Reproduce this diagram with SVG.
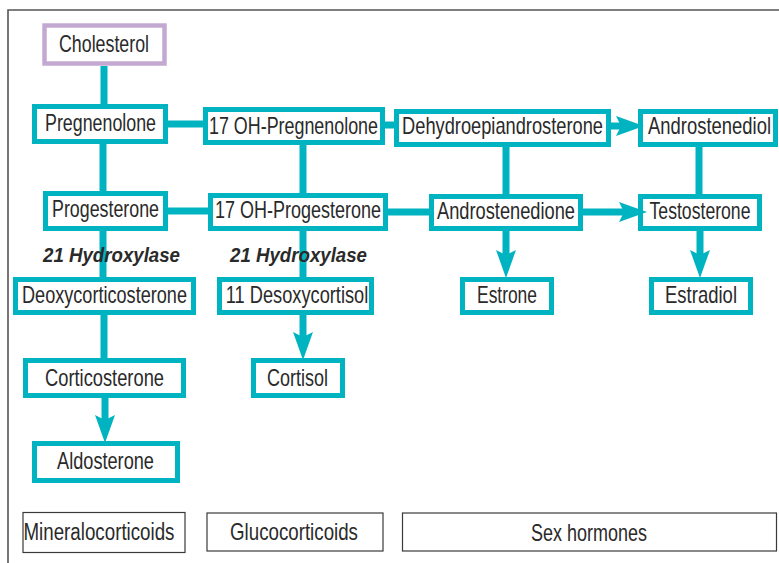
<svg xmlns="http://www.w3.org/2000/svg" width="779" height="563" viewBox="0 0 779 563">
<style>
.box{fill:#fff;stroke:#00b3c1;stroke-width:5}
.chol{fill:#fff;stroke:#c3a9d2;stroke-width:4.5}
.t{font-family:"Liberation Sans",Arial,sans-serif;font-size:23px;fill:#2a2a2a;text-anchor:middle}
.lab{font-family:"Liberation Sans",Arial,sans-serif;font-size:21px;font-style:italic;font-weight:bold;fill:#2a2a2a;text-anchor:middle}
.c{fill:none;stroke:#00b3c1;stroke-width:7;stroke-linecap:butt}
.a{marker-end:url(#ah)}
.leg{fill:#fff;stroke:#3a3a3a;stroke-width:1.2}
</style>
<defs>
<marker id="ah" markerUnits="userSpaceOnUse" markerWidth="30" markerHeight="22" refX="5" refY="10" orient="auto" overflow="visible">
<path d="M0,0 L28,10 L0,20 L5,10 Z" fill="#00b3c1"/>
</marker>
</defs>
<rect width="779" height="563" fill="#fff"/>
<path d="M8,563 V10 H779" fill="none" stroke="#555" stroke-width="1.6"/>

<g id="cholesterol"><rect class="chol" x="44.5" y="25.5" width="120" height="38"/><text class="t" transform="translate(104,52) scale(0.774,1)">Cholesterol</text></g>
<g id="pregnenolone"><rect class="box" x="34.5" y="106.5" width="131" height="35"/><text class="t" transform="translate(100.5,131) scale(0.775,1)">Pregnenolone</text></g>
<g id="oh17-pregnenolone"><rect class="box" x="205.5" y="109.5" width="177" height="33"/><text class="t" transform="translate(293.5,134) scale(0.778,1)">17 OH-Pregnenolone</text></g>
<g id="dhea"><rect class="box" x="396.5" y="111.5" width="212" height="33"/><text class="t" transform="translate(502.5,134) scale(0.794,1)">Dehydroepiandrosterone</text></g>
<g id="androstenediol"><rect class="box" x="640.5" y="111.5" width="135" height="33"/><text class="t" transform="translate(709.5,134) scale(0.802,1)">Androstenediol</text></g>
<g id="progesterone"><rect class="box" x="45.5" y="193.5" width="120" height="35"/><text class="t" transform="translate(105.5,217) scale(0.775,1)">Progesterone</text></g>
<g id="oh17-progesterone"><rect class="box" x="210.5" y="195.5" width="175" height="33"/><text class="t" transform="translate(298,218) scale(0.782,1)">17 OH-Progesterone</text></g>
<g id="androstenedione"><rect class="box" x="431.5" y="196.5" width="149" height="32"/><text class="t" transform="translate(506,219) scale(0.794,1)">Androstenedione</text></g>
<g id="testosterone"><rect class="box" x="640.5" y="196.5" width="119" height="32"/><text class="t" transform="translate(700,219) scale(0.767,1)">Testosterone</text></g>
<g id="deoxycorticosterone"><rect class="box" x="15.5" y="279.5" width="178" height="33"/><text class="t" transform="translate(104.5,303) scale(0.787,1)">Deoxycorticosterone</text></g>
<g id="desoxycortisol"><rect class="box" x="219.5" y="279.5" width="152" height="33"/><text class="t" transform="translate(297,303) scale(0.793,1)">11 Desoxycortisol</text></g>
<g id="estrone"><rect class="box" x="462.5" y="279.5" width="89" height="33"/><text class="t" transform="translate(507,303) scale(0.757,1)">Estrone</text></g>
<g id="estradiol"><rect class="box" x="651.5" y="279.5" width="99" height="33"/><text class="t" transform="translate(701,303) scale(0.805,1)">Estradiol</text></g>
<g id="corticosterone"><rect class="box" x="25.5" y="360.5" width="158" height="35"/><text class="t" transform="translate(104.5,386) scale(0.796,1)">Corticosterone</text></g>
<g id="cortisol"><rect class="box" x="253.5" y="360.5" width="89" height="35"/><text class="t" transform="translate(297.5,386) scale(0.783,1)">Cortisol</text></g>
<g id="aldosterone"><rect class="box" x="34.5" y="443.5" width="143" height="37"/><text class="t" transform="translate(105.5,469) scale(0.79,1)">Aldosterone</text></g>

<g id="connectors">
<path class="c" d="M104,66 V104"/>
<path class="c" d="M168,124 H203"/>
<path class="c" d="M103,144 V191"/>
<path class="c" d="M303,145 V193"/>
<path class="c" d="M385,125 H394"/>
<path class="c a" d="M611,126 H621"/>
<path class="c" d="M168,211 H208"/>
<path class="c" d="M388,212 H429"/>
<path class="c" d="M506,147 V194"/>
<path class="c" d="M699,147 V194"/>
<path class="c a" d="M583,212 H624"/>
<path class="c a" d="M506,231 V255"/>
<path class="c a" d="M700,231 V255"/>
<path class="c" d="M103,231 V277"/>
<path class="c" d="M303,231 V277"/>
<path class="c" d="M104,315 V358"/>
<path class="c a" d="M303,315 V337"/>
<path class="c a" d="M105,398 V420"/>
</g>

<g id="labels">
<text class="lab" transform="translate(111.5,262) scale(0.889,1)">21 Hydroxylase</text>
<text class="lab" transform="translate(298.5,262) scale(0.889,1)">21 Hydroxylase</text>
</g>

<g id="legend-mineralocorticoids"><rect class="leg" x="23" y="512.5" width="162" height="40"/><text class="t" transform="translate(99,540) scale(0.815,1)">Mineralocorticoids</text></g>
<g id="legend-glucocorticoids"><rect class="leg" x="207" y="513" width="176" height="38"/><text class="t" transform="translate(294,540) scale(0.814,1)">Glucocorticoids</text></g>
<g id="legend-sex-hormones"><rect class="leg" x="402.5" y="513" width="374" height="38"/><text class="t" transform="translate(589,541) scale(0.782,1)">Sex hormones</text></g>
</svg>
